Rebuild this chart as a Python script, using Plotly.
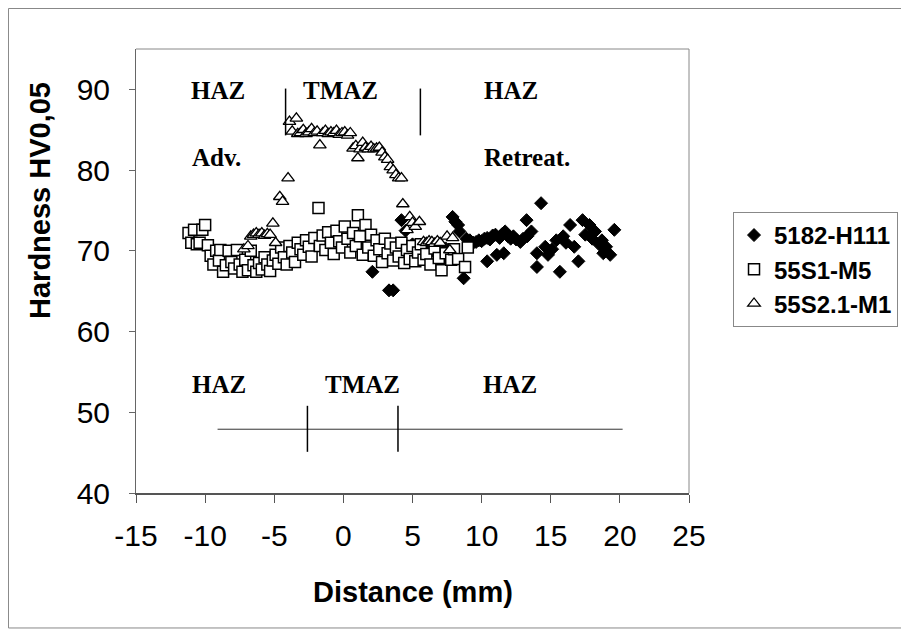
import plotly.graph_objects as go

# ---- data ----
h111_x = [2.1, 3.3, 3.6, 4.2, 4.5, 5.0, 5.6, 6.2, 6.8, 7.4, 7.9, 8.1, 8.3, 8.4, 8.7, 8.9, 9.15, 9.4, 9.6, 9.8,
          10.0, 10.2, 10.4, 10.4, 10.6, 10.8, 11.0, 11.1, 11.3, 11.5, 11.6, 11.7, 11.9, 12.1, 12.3, 12.5, 12.8, 13.0,
          13.25, 13.3, 13.6, 14.0, 14.0, 14.3, 14.6, 14.8, 15.1, 15.4, 15.66, 15.9, 16.1, 16.4, 16.7, 17.0, 17.3,
          17.5, 17.8, 18.0, 18.2, 18.5, 18.7, 18.8, 19.0, 19.3, 19.6]
h111_y = [67.4, 65.1, 65.1, 73.8, 72.5, 70.8, 69.8, 70.5, 69.5, 70.3, 74.2, 73.6, 73.2, 72.4, 66.6, 71.5, 71.3, 71.0, 71.1, 71.3,
          71.2, 71.5, 71.6, 68.7, 71.4, 71.9, 72.0, 69.5, 71.6, 72.1, 69.7, 72.4, 71.8, 71.5, 71.8, 71.4, 71.1, 71.5,
          73.8, 71.8, 72.4, 69.7, 68.0, 75.9, 70.5, 69.5, 70.2, 71.3, 67.4, 71.8, 71.0, 73.2, 70.5, 68.7, 73.8,
          72.0, 73.2, 71.5, 72.4, 70.8, 71.3, 69.7, 70.5, 69.5, 72.6]

m5_x = [-11.2, -11.0, -10.8, -10.6, -10.4, -10.2, -10.0, -9.8, -9.6, -9.4, -9.2, -9.0, -8.9, -8.7, -8.5, -8.3, -8.1,
        -7.9, -7.7, -7.5, -7.3, -7.1, -6.9, -6.7, -6.5, -6.3, -6.1, -5.9, -5.7, -5.5, -5.3, -5.1, -4.9, -4.7, -4.5,
        -4.3, -4.1, -3.9, -3.7, -3.5, -3.3, -3.1, -2.9, -2.7, -2.5, -2.3, -2.1, -1.8, -1.7, -1.5, -1.3, -1.1, -0.9,
        -0.7, -0.5, -0.3, -0.1, 0.1, 0.3, 0.5, 0.7, 0.9, 1.05, 1.2, 1.4, 1.6, 1.8, 2.0, 2.2, 2.4, 2.6, 2.8, 3.0, 3.2,
        3.4, 3.6, 3.8, 4.0, 4.2, 4.4, 4.6, 4.8, 5.0, 5.2, 5.4, 5.6, 5.8, 6.0, 6.3, 6.6, 6.9, 7.1, 7.4, 7.8, 8.0, 8.3,
        8.8, 9.0]
m5_y = [72.2, 71.0, 72.6, 70.8, 71.0, 72.6, 73.2, 70.7, 69.4, 68.3, 70.0, 68.8, 70.1, 67.4, 68.2, 70.0, 68.6,
        67.8, 70.1, 68.3, 67.4, 68.9, 67.6, 70.0, 68.2, 67.4, 68.5, 67.7, 69.2, 68.3, 67.5, 68.8, 69.5, 68.4, 70.4,
        69.2, 68.3, 70.6, 69.8, 68.6, 71.0, 70.2, 69.5, 71.3, 70.5, 69.3, 71.6, 75.3, 70.6, 71.9, 70.1, 72.3, 71.0,
        69.6, 72.5, 71.2, 70.4, 73.0, 71.5, 69.8, 72.2, 70.6, 74.4, 71.8, 69.5, 73.2, 70.4, 72.0, 69.4, 71.3, 70.2,
        68.6, 71.5, 69.7, 70.9, 68.8, 70.4, 69.3, 71.0, 68.5, 70.1, 69.0, 70.6, 68.7, 69.8, 70.8, 68.9, 69.6, 68.3,
        70.3, 69.1, 67.6, 69.7, 68.9, 70.2, 69.0, 68.0, 70.4]

m1_x = [-7.2, -6.9, -6.7, -6.5, -6.3, -6.1, -5.9, -5.7, -5.5, -5.3, -5.1, -4.9, -4.6, -4.4, -4.0, -3.9, -3.7, -3.4,
        -3.3, -3.1, -2.9, -2.7, -2.5, -2.3, -2.1, -1.9, -1.7, -1.5, -1.3, -1.1, -0.9, -0.7, -0.5, -0.3, -0.1, 0.1,
        0.3, 0.5, 0.7, 0.9, 1.05, 1.2, 1.4, 1.6, 1.8, 2.0, 2.2, 2.4, 2.6, 2.8, 3.0, 3.2, 3.4, 3.6, 3.8, 4.0, 4.2,
        4.3, 4.6, 4.8, 5.0, 5.2, 5.5, 5.8, 6.0, 6.2, 6.4, 6.6, 6.8, 7.0, 7.5, 7.7, 7.9]
m1_y = [70.2, 70.6, 71.8, 72.0, 72.2, 72.0, 72.2, 71.9, 72.1, 72.0, 73.4, 71.0, 76.7, 76.1, 79.0, 86.0, 84.8, 86.4,
        84.5, 84.6, 85.0, 84.5, 84.7, 85.1, 84.6, 84.8, 83.1, 84.6, 84.9, 84.5, 84.7, 84.6, 84.9, 84.4, 84.6, 84.7,
        84.3, 84.6, 82.7, 83.0, 81.5, 82.6, 83.4, 82.8, 82.6, 82.9, 82.6, 82.7, 82.8, 82.2, 81.6, 81.3, 80.4, 80.0,
        79.4, 79.0, 79.0, 75.8, 72.6, 74.2, 73.5, 73.0, 73.6, 71.1, 71.0, 71.2, 71.1, 70.9, 71.2, 71.0, 71.8, 70.1,
        71.6]

series_names = ["5182-H111", "55S1-M5", "55S2.1-M1"]

x_ticks = [-15, -10, -5, 0, 5, 10, 15, 20, 25]
y_ticks = [40, 50, 60, 70, 80, 90]

# zone markers (distance, hardness)
top_bounds_x = [-4.18, 5.57]
top_bounds_y = [84.3, 90.1]
scale_line_x = [-9.1, 20.2]
scale_line_y = 47.9
scale_ticks_x = [-2.6, 3.95]
scale_ticks_y = [45.1, 50.8]

top_labels = [("HAZ", -9.07, 89.85), ("TMAZ", -0.18, 89.85), ("HAZ", 12.1, 89.85),
              ("Adv.", -9.18, 81.6), ("Retreat.", 13.3, 81.6)]
bottom_labels = [("HAZ", -9.0, 53.4), ("TMAZ", 1.35, 53.4), ("HAZ", 12.05, 53.4)]

# ---- figure ----
fig = go.Figure()
fig.add_trace(go.Scatter(x=h111_x, y=h111_y, mode="markers", name=series_names[0],
                         marker=dict(symbol="diamond", size=10, color="black",
                                     line=dict(color="black", width=1))))
fig.add_trace(go.Scatter(x=m5_x, y=m5_y, mode="markers", name=series_names[1],
                         marker=dict(symbol="square", size=11, color="white",
                                     line=dict(color="black", width=1.5))))
fig.add_trace(go.Scatter(x=m1_x, y=m1_y, mode="markers", name=series_names[2],
                         marker=dict(symbol="triangle-up", size=11, color="white",
                                     line=dict(color="black", width=1.3))))

shapes = []
for bx in top_bounds_x:
    shapes.append(dict(type="line", xref="x", yref="y", x0=bx, x1=bx, y0=top_bounds_y[0], y1=top_bounds_y[1],
                       line=dict(color="black", width=1.5)))
shapes.append(dict(type="line", xref="x", yref="y", x0=scale_line_x[0], x1=scale_line_x[1],
                   y0=scale_line_y, y1=scale_line_y, line=dict(color="#333", width=1)))
for tx in scale_ticks_x:
    shapes.append(dict(type="line", xref="x", yref="y", x0=tx, x1=tx, y0=scale_ticks_y[0], y1=scale_ticks_y[1],
                       line=dict(color="black", width=1.5)))
# outer chart frame
shapes.append(dict(type="rect", xref="paper", yref="paper", x0=-0.2306, x1=1.3942, y0=-0.304, y1=1.0912,
                   line=dict(color="#888", width=1), layer="below"))
# top and right plot-area borders
shapes.append(dict(type="line", xref="paper", yref="paper", x0=0, x1=1, y0=1, y1=1,
                   line=dict(color="#888", width=1)))
shapes.append(dict(type="line", xref="paper", yref="paper", x0=1, x1=1, y0=0, y1=1,
                   line=dict(color="#888", width=1)))

annotations = []
for txt, ax, ay in top_labels + bottom_labels:
    annotations.append(dict(text="<b>" + txt + "</b>", x=ax, y=ay, xref="x", yref="y", showarrow=False,
                            font=dict(family="Liberation Serif", size=25, color="black"),
                            xanchor="center", yanchor="middle"))
annotations.append(dict(text="<b>Hardness HV0,05</b>", x=-0.1736, y=0.66, xref="paper", yref="paper",
                        textangle=-90, showarrow=False, xanchor="center", yanchor="middle",
                        font=dict(family="Liberation Sans", size=29, color="black")))
annotations.append(dict(text="<b>Distance (mm)</b>", x=0.5009, y=-0.223, xref="paper", yref="paper",
                        showarrow=False, xanchor="center", yanchor="middle",
                        font=dict(family="Liberation Sans", size=29, color="black")))

fig.update_layout(
    width=909, height=633,
    margin=dict(l=128, r=228, t=41, b=148),
    paper_bgcolor="white", plot_bgcolor="white",
    showlegend=True,
    legend=dict(x=1.0796, y=0.633, xanchor="left", yanchor="top",
                bordercolor="#888", borderwidth=1, bgcolor="white",
                font=dict(family="Liberation Sans", size=24, color="black", weight="bold"),
                itemwidth=30, tracegroupgap=0),
    shapes=shapes, annotations=annotations,
)
fig.update_xaxes(range=[-15, 25], tickvals=x_ticks, ticktext=[str(v) for v in x_ticks],
                 showgrid=False, zeroline=False, showline=True, linecolor="#555", linewidth=2,
                 mirror=False, ticks="outside", ticklen=8, tickcolor="#555",
                 tickfont=dict(family="Liberation Sans", size=30, color="black"), ticklabelstandoff=7)
fig.update_yaxes(range=[40, 95], tickvals=y_ticks, ticktext=[str(v) for v in y_ticks],
                 showgrid=False, zeroline=False, showline=True, linecolor="#666", linewidth=1,
                 mirror=False, ticks="outside", ticklen=6, tickcolor="#666",
                 tickfont=dict(family="Liberation Sans", size=30, color="black"), ticklabelstandoff=13)

fig.write_html("out.html")
